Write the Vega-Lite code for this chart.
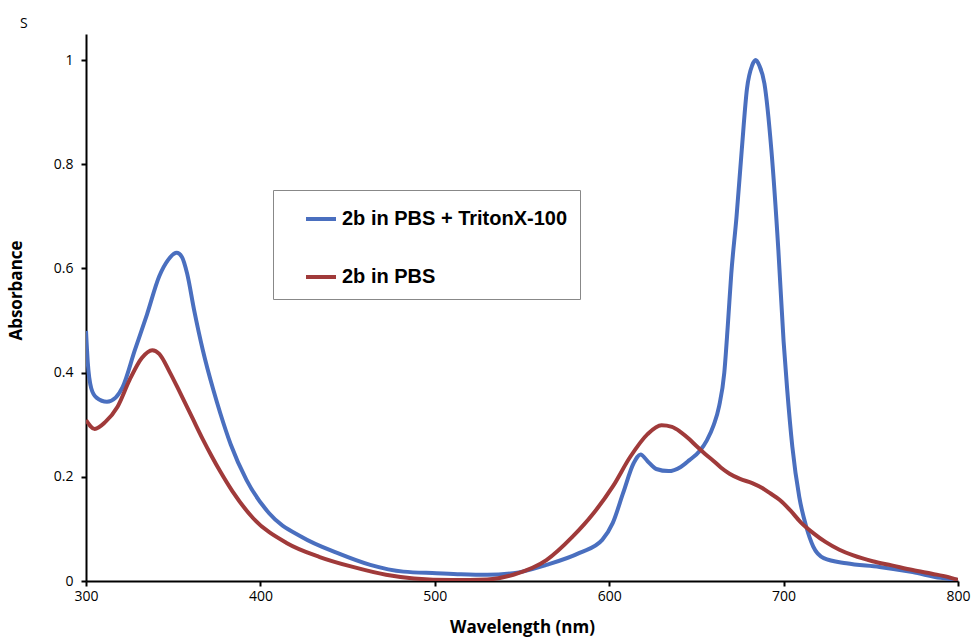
{
  "$schema": "https://vega.github.io/schema/vega-lite/v6.json",
  "width": 872,
  "height": 547,
  "autosize": "none",
  "padding": {"left": 86, "top": 34, "right": 15, "bottom": 59},
  "background": "white",
  "title": {"text": "S", "anchor": "start", "frame": "group", "dx": -66, "offset": 3, "fontSize": 14, "fontWeight": "normal", "font": "Open Sans", "color": "black"},
  "config": {"view": {"stroke": null}, "font": "Open Sans"},
  "data": {"values": [
    {"nm": 300, "abs": 0.48, "series": "2b in PBS + TritonX-100"},
    {"nm": 301, "abs": 0.42, "series": "2b in PBS + TritonX-100"},
    {"nm": 303, "abs": 0.37, "series": "2b in PBS + TritonX-100"},
    {"nm": 306, "abs": 0.352, "series": "2b in PBS + TritonX-100"},
    {"nm": 312, "abs": 0.344, "series": "2b in PBS + TritonX-100"},
    {"nm": 317, "abs": 0.352, "series": "2b in PBS + TritonX-100"},
    {"nm": 321, "abs": 0.372, "series": "2b in PBS + TritonX-100"},
    {"nm": 328, "abs": 0.443, "series": "2b in PBS + TritonX-100"},
    {"nm": 335, "abs": 0.512, "series": "2b in PBS + TritonX-100"},
    {"nm": 342, "abs": 0.585, "series": "2b in PBS + TritonX-100"},
    {"nm": 347, "abs": 0.616, "series": "2b in PBS + TritonX-100"},
    {"nm": 352, "abs": 0.63, "series": "2b in PBS + TritonX-100"},
    {"nm": 355, "abs": 0.622, "series": "2b in PBS + TritonX-100"},
    {"nm": 358, "abs": 0.59, "series": "2b in PBS + TritonX-100"},
    {"nm": 362, "abs": 0.52, "series": "2b in PBS + TritonX-100"},
    {"nm": 367, "abs": 0.443, "series": "2b in PBS + TritonX-100"},
    {"nm": 373, "abs": 0.367, "series": "2b in PBS + TritonX-100"},
    {"nm": 377, "abs": 0.322, "series": "2b in PBS + TritonX-100"},
    {"nm": 383, "abs": 0.262, "series": "2b in PBS + TritonX-100"},
    {"nm": 392, "abs": 0.194, "series": "2b in PBS + TritonX-100"},
    {"nm": 405, "abs": 0.13, "series": "2b in PBS + TritonX-100"},
    {"nm": 424, "abs": 0.084, "series": "2b in PBS + TritonX-100"},
    {"nm": 444, "abs": 0.054, "series": "2b in PBS + TritonX-100"},
    {"nm": 463, "abs": 0.031, "series": "2b in PBS + TritonX-100"},
    {"nm": 482, "abs": 0.018, "series": "2b in PBS + TritonX-100"},
    {"nm": 501, "abs": 0.015, "series": "2b in PBS + TritonX-100"},
    {"nm": 515, "abs": 0.013, "series": "2b in PBS + TritonX-100"},
    {"nm": 530, "abs": 0.012, "series": "2b in PBS + TritonX-100"},
    {"nm": 545, "abs": 0.015, "series": "2b in PBS + TritonX-100"},
    {"nm": 564, "abs": 0.031, "series": "2b in PBS + TritonX-100"},
    {"nm": 583, "abs": 0.054, "series": "2b in PBS + TritonX-100"},
    {"nm": 596, "abs": 0.079, "series": "2b in PBS + TritonX-100"},
    {"nm": 602, "abs": 0.111, "series": "2b in PBS + TritonX-100"},
    {"nm": 608, "abs": 0.169, "series": "2b in PBS + TritonX-100"},
    {"nm": 614, "abs": 0.226, "series": "2b in PBS + TritonX-100"},
    {"nm": 618, "abs": 0.243, "series": "2b in PBS + TritonX-100"},
    {"nm": 622, "abs": 0.23, "series": "2b in PBS + TritonX-100"},
    {"nm": 627, "abs": 0.215, "series": "2b in PBS + TritonX-100"},
    {"nm": 634, "abs": 0.211, "series": "2b in PBS + TritonX-100"},
    {"nm": 641, "abs": 0.219, "series": "2b in PBS + TritonX-100"},
    {"nm": 646, "abs": 0.232, "series": "2b in PBS + TritonX-100"},
    {"nm": 652, "abs": 0.25, "series": "2b in PBS + TritonX-100"},
    {"nm": 656, "abs": 0.27, "series": "2b in PBS + TritonX-100"},
    {"nm": 660, "abs": 0.3, "series": "2b in PBS + TritonX-100"},
    {"nm": 663, "abs": 0.335, "series": "2b in PBS + TritonX-100"},
    {"nm": 666, "abs": 0.4, "series": "2b in PBS + TritonX-100"},
    {"nm": 668, "abs": 0.49, "series": "2b in PBS + TritonX-100"},
    {"nm": 670, "abs": 0.59, "series": "2b in PBS + TritonX-100"},
    {"nm": 673, "abs": 0.699, "series": "2b in PBS + TritonX-100"},
    {"nm": 676, "abs": 0.827, "series": "2b in PBS + TritonX-100"},
    {"nm": 679, "abs": 0.945, "series": "2b in PBS + TritonX-100"},
    {"nm": 682, "abs": 0.99, "series": "2b in PBS + TritonX-100"},
    {"nm": 684, "abs": 1.0, "series": "2b in PBS + TritonX-100"},
    {"nm": 686, "abs": 0.99, "series": "2b in PBS + TritonX-100"},
    {"nm": 689, "abs": 0.955, "series": "2b in PBS + TritonX-100"},
    {"nm": 693, "abs": 0.827, "series": "2b in PBS + TritonX-100"},
    {"nm": 697, "abs": 0.635, "series": "2b in PBS + TritonX-100"},
    {"nm": 700, "abs": 0.46, "series": "2b in PBS + TritonX-100"},
    {"nm": 702, "abs": 0.37, "series": "2b in PBS + TritonX-100"},
    {"nm": 705, "abs": 0.258, "series": "2b in PBS + TritonX-100"},
    {"nm": 709, "abs": 0.161, "series": "2b in PBS + TritonX-100"},
    {"nm": 713, "abs": 0.104, "series": "2b in PBS + TritonX-100"},
    {"nm": 717, "abs": 0.066, "series": "2b in PBS + TritonX-100"},
    {"nm": 723, "abs": 0.044, "series": "2b in PBS + TritonX-100"},
    {"nm": 736, "abs": 0.034, "series": "2b in PBS + TritonX-100"},
    {"nm": 755, "abs": 0.027, "series": "2b in PBS + TritonX-100"},
    {"nm": 774, "abs": 0.017, "series": "2b in PBS + TritonX-100"},
    {"nm": 790, "abs": 0.006, "series": "2b in PBS + TritonX-100"},
    {"nm": 800, "abs": 0.002, "series": "2b in PBS + TritonX-100"},
    {"nm": 300, "abs": 0.309, "series": "2b in PBS"},
    {"nm": 305, "abs": 0.292, "series": "2b in PBS"},
    {"nm": 311, "abs": 0.305, "series": "2b in PBS"},
    {"nm": 318, "abs": 0.334, "series": "2b in PBS"},
    {"nm": 325, "abs": 0.386, "series": "2b in PBS"},
    {"nm": 332, "abs": 0.428, "series": "2b in PBS"},
    {"nm": 338, "abs": 0.443, "series": "2b in PBS"},
    {"nm": 342, "abs": 0.436, "series": "2b in PBS"},
    {"nm": 348, "abs": 0.401, "series": "2b in PBS"},
    {"nm": 354, "abs": 0.361, "series": "2b in PBS"},
    {"nm": 361, "abs": 0.313, "series": "2b in PBS"},
    {"nm": 367, "abs": 0.272, "series": "2b in PBS"},
    {"nm": 372, "abs": 0.24, "series": "2b in PBS"},
    {"nm": 377, "abs": 0.21, "series": "2b in PBS"},
    {"nm": 384, "abs": 0.172, "series": "2b in PBS"},
    {"nm": 396, "abs": 0.12, "series": "2b in PBS"},
    {"nm": 415, "abs": 0.073, "series": "2b in PBS"},
    {"nm": 434, "abs": 0.046, "series": "2b in PBS"},
    {"nm": 453, "abs": 0.027, "series": "2b in PBS"},
    {"nm": 472, "abs": 0.012, "series": "2b in PBS"},
    {"nm": 488, "abs": 0.005, "series": "2b in PBS"},
    {"nm": 510, "abs": 0.002, "series": "2b in PBS"},
    {"nm": 530, "abs": 0.003, "series": "2b in PBS"},
    {"nm": 545, "abs": 0.012, "series": "2b in PBS"},
    {"nm": 564, "abs": 0.04, "series": "2b in PBS"},
    {"nm": 579, "abs": 0.085, "series": "2b in PBS"},
    {"nm": 591, "abs": 0.13, "series": "2b in PBS"},
    {"nm": 602, "abs": 0.181, "series": "2b in PBS"},
    {"nm": 612, "abs": 0.238, "series": "2b in PBS"},
    {"nm": 622, "abs": 0.282, "series": "2b in PBS"},
    {"nm": 630, "abs": 0.299, "series": "2b in PBS"},
    {"nm": 636, "abs": 0.296, "series": "2b in PBS"},
    {"nm": 641, "abs": 0.286, "series": "2b in PBS"},
    {"nm": 646, "abs": 0.272, "series": "2b in PBS"},
    {"nm": 650, "abs": 0.259, "series": "2b in PBS"},
    {"nm": 655, "abs": 0.244, "series": "2b in PBS"},
    {"nm": 660, "abs": 0.23, "series": "2b in PBS"},
    {"nm": 664, "abs": 0.218, "series": "2b in PBS"},
    {"nm": 669, "abs": 0.206, "series": "2b in PBS"},
    {"nm": 675, "abs": 0.196, "series": "2b in PBS"},
    {"nm": 682, "abs": 0.188, "series": "2b in PBS"},
    {"nm": 688, "abs": 0.178, "series": "2b in PBS"},
    {"nm": 692, "abs": 0.169, "series": "2b in PBS"},
    {"nm": 698, "abs": 0.155, "series": "2b in PBS"},
    {"nm": 704, "abs": 0.135, "series": "2b in PBS"},
    {"nm": 710, "abs": 0.112, "series": "2b in PBS"},
    {"nm": 717, "abs": 0.092, "series": "2b in PBS"},
    {"nm": 724, "abs": 0.075, "series": "2b in PBS"},
    {"nm": 732, "abs": 0.06, "series": "2b in PBS"},
    {"nm": 740, "abs": 0.049, "series": "2b in PBS"},
    {"nm": 751, "abs": 0.038, "series": "2b in PBS"},
    {"nm": 762, "abs": 0.03, "series": "2b in PBS"},
    {"nm": 774, "abs": 0.021, "series": "2b in PBS"},
    {"nm": 785, "abs": 0.014, "series": "2b in PBS"},
    {"nm": 794, "abs": 0.008, "series": "2b in PBS"},
    {"nm": 800, "abs": 0.002, "series": "2b in PBS"}
  ]},
  "mark": {"type": "line", "strokeWidth": 4, "interpolate": "monotone", "clip": true},
  "encoding": {
    "x": {
      "field": "nm", "type": "quantitative",
      "scale": {"domain": [300, 800], "nice": false, "zero": false},
      "axis": {
        "title": "Wavelength (nm)", "values": [300, 400, 500, 600, 700, 800],
        "grid": false, "domainColor": "black", "domainWidth": 2,
        "tickColor": "black", "tickWidth": 2, "tickSize": 5,
        "labelFontSize": 14, "labelColor": "black", "labelFont": "Open Sans", "labelPadding": 3,
        "titleFontSize": 17, "titleFontWeight": "bold", "titleColor": "black", "titleFont": "Open Sans", "titlePadding": 16,
        "labelFlush": false
      }
    },
    "y": {
      "field": "abs", "type": "quantitative",
      "scale": {"domain": [0, 1.05], "nice": false},
      "axis": {
        "title": "Absorbance", "values": [0, 0.2, 0.4, 0.6, 0.8, 1], "format": ".1~f",
        "grid": false, "domainColor": "black", "domainWidth": 2,
        "tickColor": "black", "tickWidth": 2, "tickSize": 5,
        "labelFontSize": 14, "labelColor": "black", "labelFont": "Open Sans", "labelPadding": 8,
        "titleFontSize": 17, "titleFontWeight": "bold", "titleColor": "black", "titleFont": "Open Sans", "titlePadding": 28,
        "titleY": 256,
        "labelFlush": false
      }
    },
    "color": {
      "field": "series", "type": "nominal",
      "scale": {"domain": ["2b in PBS + TritonX-100", "2b in PBS"], "range": ["#4a6fbf", "#a03a3a"]},
      "legend": {
        "title": null, "orient": "none", "legendX": 187, "legendY": 156,
        "symbolType": "stroke", "symbolSize": 900, "symbolStrokeWidth": 4,
        "labelFontSize": 20, "labelFontWeight": "bold", "labelFont": "Liberation Sans", "labelColor": "black", "labelLimit": 500,
        "rowPadding": 31, "padding": 12, "symbolOffset": 19, "labelOffset": 4,
        "strokeColor": "#888888", "fillColor": "white"
      }
    }
  }
}
